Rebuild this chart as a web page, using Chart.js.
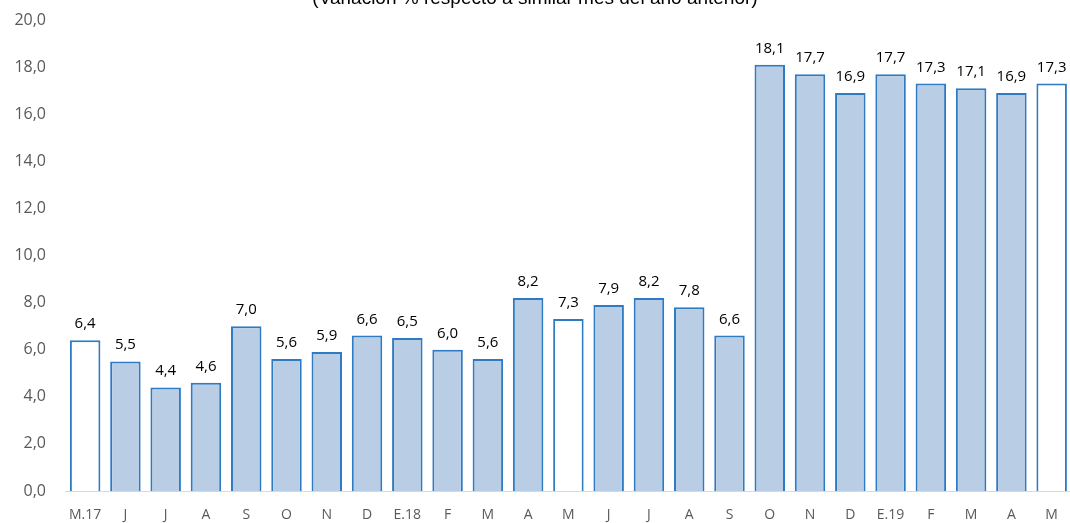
<!DOCTYPE html>
<html><head><meta charset="utf-8">
<script src="https://cdn.jsdelivr.net/npm/chart.js@4"></script>
<style>html,body{margin:0;padding:0;overflow:hidden;background:#fff}#wrap{width:1074px;height:523px;position:relative}</style>
</head><body><div id="wrap"><canvas id="c"></canvas></div>
<script>
const categories = ["M.17","J","J","A","S","O","N","D","E.18","F","M","A","M","J","J","A","S","O","N","D","E.19","F","M","A","M"];
const values = [6.4,5.5,4.4,4.6,7.0,5.6,5.9,6.6,6.5,6.0,5.6,8.2,7.3,7.9,8.2,7.8,6.6,18.1,17.7,16.9,17.7,17.3,17.1,16.9,17.3];
const whiteIdx = [0,12,24];
const yTicks = [0,2,4,6,8,10,12,14,16,18,20];
const titleText = "(Variación % respecto a similar mes del año anterior)";

const fmt = v => v.toFixed(1).replace('.', ',');
const FONT = "'Open Sans', 'Liberation Sans', sans-serif";

const labelPlugin = {
  id: 'labels',
  afterDatasetsDraw(chart) {
    const ctx = chart.ctx;
    const meta = chart.getDatasetMeta(0);
    ctx.save();
    ctx.font = "15px " + FONT;
    ctx.fillStyle = "#000";
    ctx.textAlign = "center";
    ctx.textBaseline = "alphabetic";
    meta.data.forEach((bar, i) => {
      ctx.fillText(fmt(values[i]), bar.x, bar.y - 12);
    });
    ctx.restore();
  },
  afterDraw(chart) {
    const ctx = chart.ctx;
    ctx.save();
    ctx.font = "19px 'Liberation Sans', Arial, sans-serif";
    ctx.fillStyle = "#000";
    ctx.textAlign = "center";
    ctx.textBaseline = "alphabetic";
    ctx.fillText(titleText, 535, 4);
    ctx.restore();
  }
};

new Chart(document.getElementById('c'), {
  type: 'bar',
  data: {
    labels: categories,
    datasets: [{
      data: values,
      backgroundColor: values.map((v, i) => whiteIdx.includes(i) ? '#FFFFFF' : '#B9CDE5'),
      borderColor: '#2E7BC4',
      borderWidth: 2,
      borderSkipped: 'bottom',
      barPercentage: 0.757,
      categoryPercentage: 1.0
    }]
  },
  options: {
    responsive: true,
    maintainAspectRatio: false,
    animation: false,
    layout: { padding: { top: 20, right: 2, bottom: 0, left: 0 } },
    plugins: { legend: { display: false }, tooltip: { enabled: false } },
    scales: {
      x: {
        grid: { display: false, drawTicks: false },
        border: { display: true, color: '#D9D9D9', width: 1 },
        ticks: { color: '#595959', font: { family: FONT, size: 14 }, padding: 16, maxRotation: 0, autoSkip: false },
        afterFit: s => { s.height = 32; }
      },
      y: {
        min: 0, max: 20,
        grid: { display: false, drawTicks: false },
        border: { display: false },
        afterBuildTicks: s => { s.ticks = yTicks.map(v => ({ value: v })); },
        ticks: { color: '#595959', font: { family: FONT, size: 16 }, padding: 19, callback: v => fmt(v) },
        afterFit: s => { s.width = 65; s.paddingTop = 0; s.paddingBottom = 0; }
      }
    }
  },
  plugins: [labelPlugin]
});
</script></body></html>
